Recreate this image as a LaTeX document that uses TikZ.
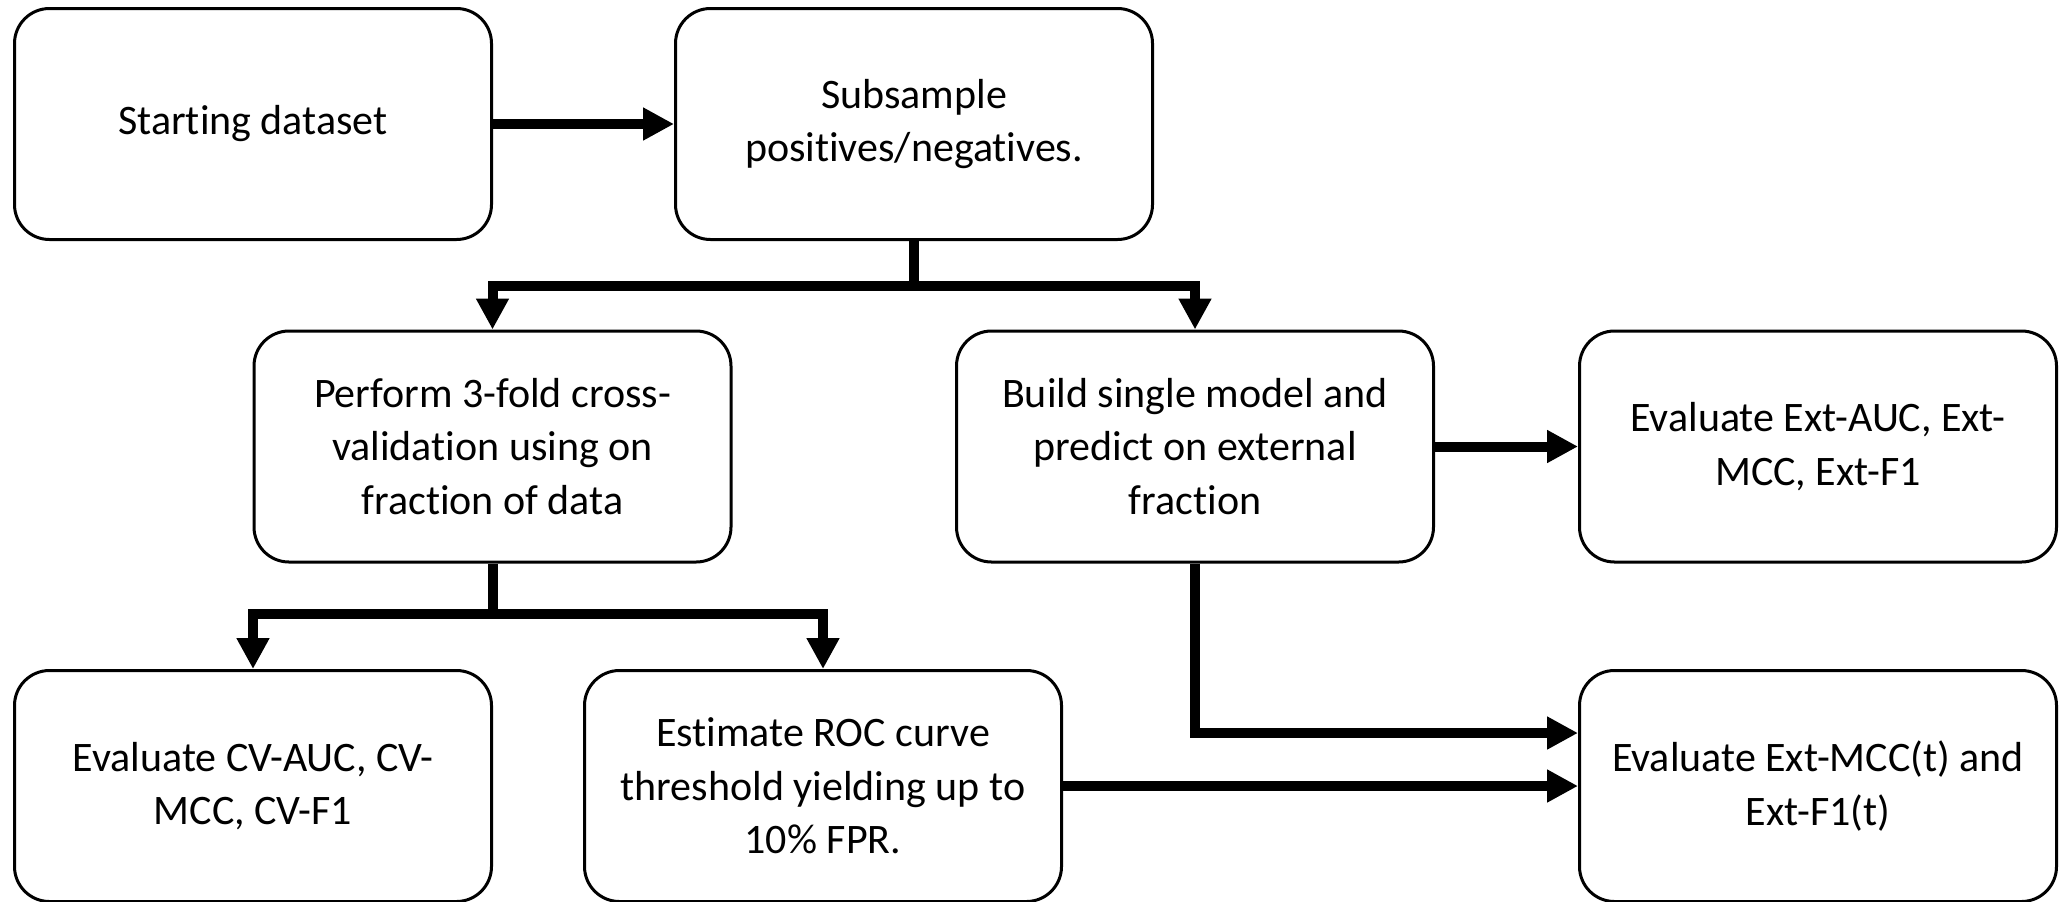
\documentclass[tikz,border=0pt]{standalone}
\usepackage{fontspec}
\setmainfont{Carlito}[Ligatures=NoCommon]
\usetikzlibrary{arrows.meta}

\begin{document}
\begin{tikzpicture}[x=0.5pt,y=-0.5pt,
        box/.style={draw, line width=1.5pt, rounded corners=17.5pt, minimum width=238.5pt, minimum height=115.5pt, align=center, font=\fontsize{21}{26.75}\selectfont},
        arr/.style={line width=5pt, -{Triangle[length=15.5pt,width=15.5pt]}}]
        \useasboundingbox (0,0) rectangle (2065,901);
        \node[box] (start) at (253,124) {Starting dataset};
        \node[box] (subsample) at (914,124) {Subsample\\positives/negatives.};
        \node[box] (crossval) at (492.5,446.5) {Perform 3-fold cross-\\validation using on\\fraction of data};
        \node[box] (single) at (1195,446.5) {Build single model and\\predict on external\\fraction};
        \node[box] (extauc) at (1818,446.5) {Evaluate Ext-AUC, Ext-\\MCC, Ext-F1};
        \node[box] (cvauc) at (253,786) {Evaluate CV-AUC, CV-\\MCC, CV-F1};
        \node[box] (roc) at (823,786) {Estimate ROC curve\\threshold yielding up to\\10\% FPR.};
        \node[box] (extmcc) at (1818,786) {Evaluate Ext-MCC(t) and\\Ext-F1(t)};
        \coordinate (split1) at (914,286);
        \coordinate (split2) at (492.5,614);
        \draw[arr] (start) -- (subsample);
        \draw[arr] (subsample) -- (split1) -| (crossval);
        \draw[arr] (split1) -| (single);
        \draw[arr] (crossval) -- (split2) -| (cvauc);
        \draw[arr] (split2) -| (roc);
        \draw[arr] (single) -- (extauc);
        \draw[arr] (single.south) |- ([yshift=26.5pt]extmcc.west);
        \draw[arr] (roc) -- (extmcc);
    \end{tikzpicture}
\end{document}
